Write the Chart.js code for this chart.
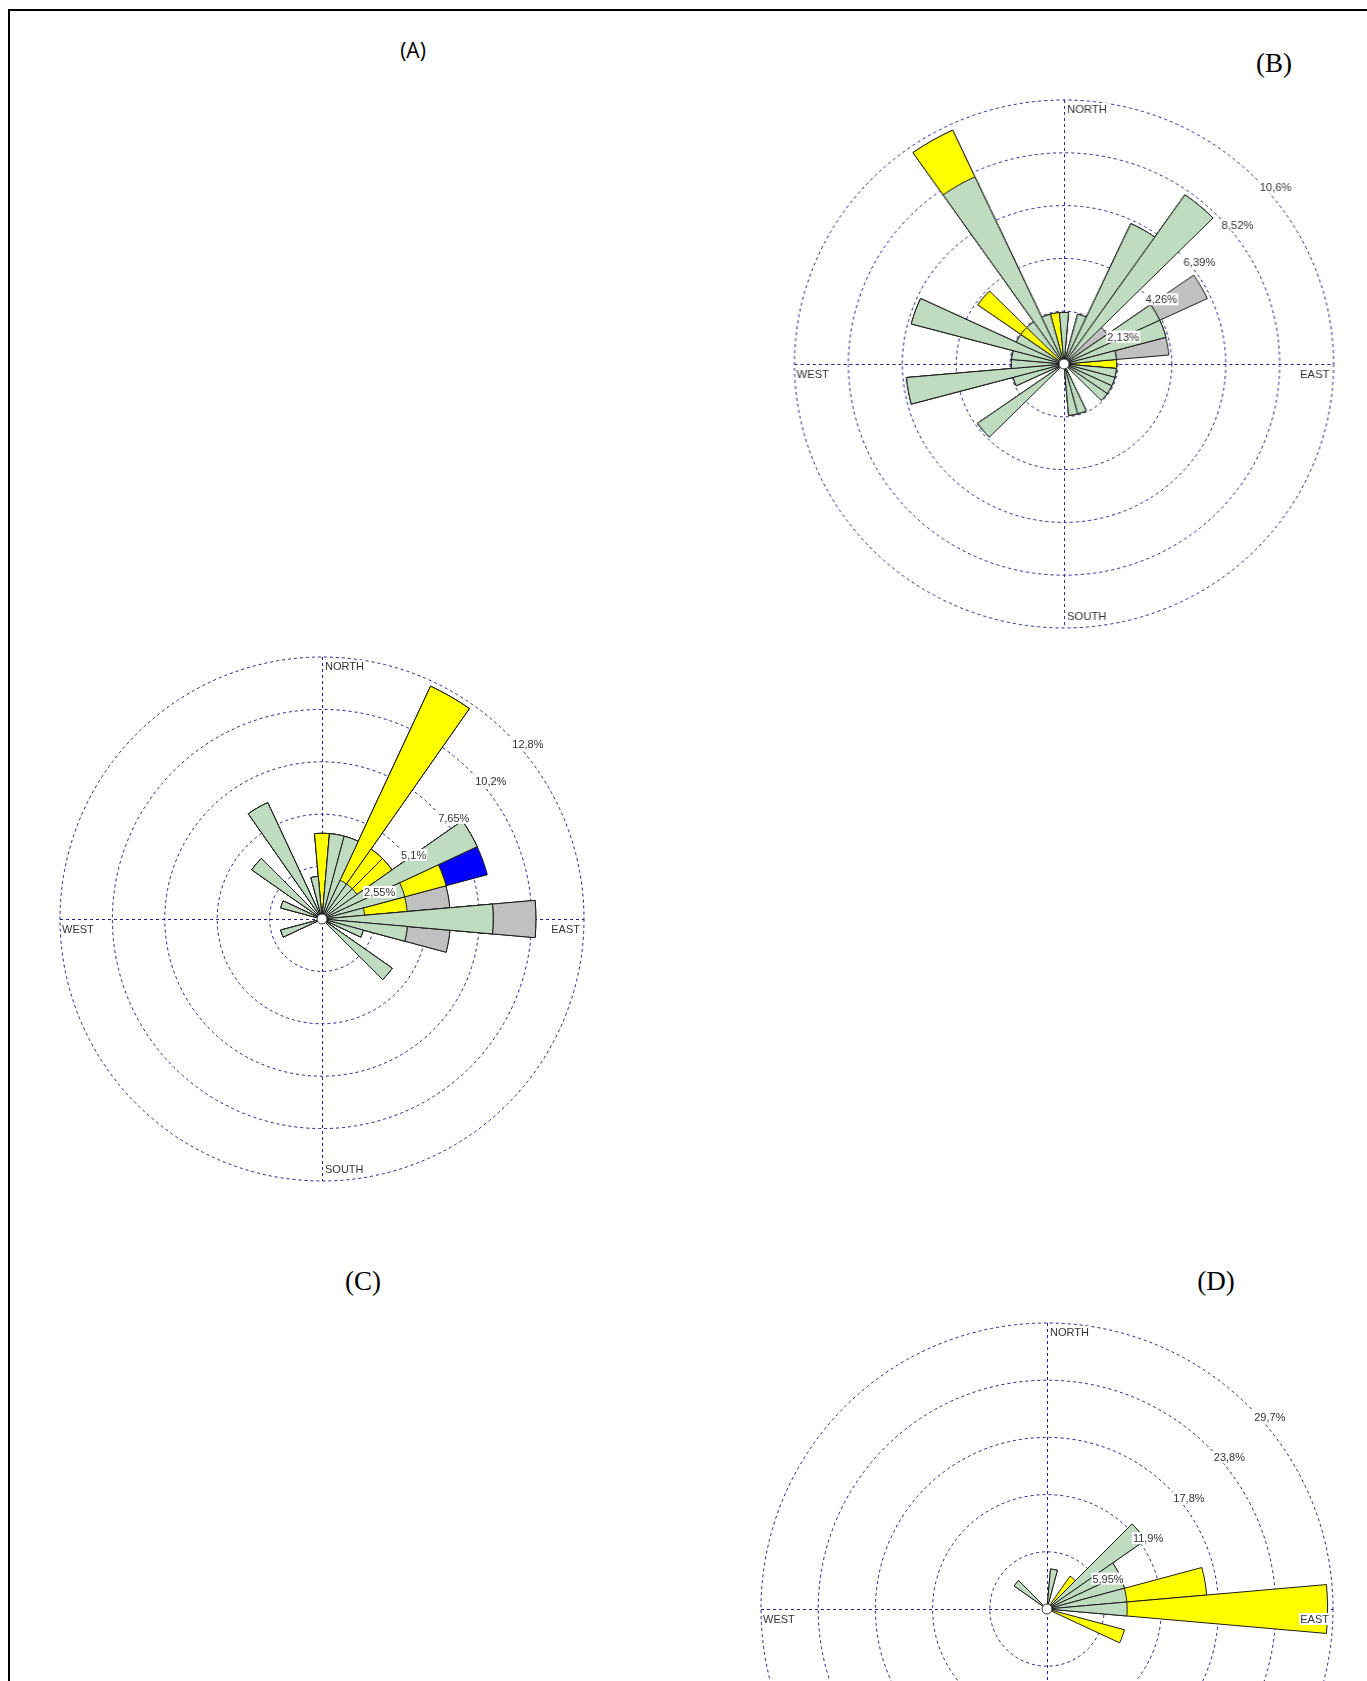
<!DOCTYPE html>
<html>
<head>
<meta charset="utf-8">
<title>Wind roses</title>
<script src="https://cdn.jsdelivr.net/npm/chart.js@4.4.1/dist/chart.umd.min.js"></script>
<style>
  html, body { margin: 0; padding: 0; background: #fff; overflow: hidden; }
  #page { position: relative; width: 1367px; height: 1681px; overflow: hidden; background: #fff; }
  #frame { position: absolute; left: 8px; top: 9px; width: 1420px; height: 1720px;
           border-top: 2px solid #000; border-left: 2px solid #000; }
  .tag { position: absolute; transform: translate(-50%, -50%); white-space: nowrap; color: #000; line-height: 1; }
  .serif { font-family: "Liberation Serif", "Times New Roman", serif; font-size: 27px; }
  .sans { font-family: "Open Sans", "Noto Sans", sans-serif; font-size: 21px; }
  canvas { position: absolute; }
</style>
</head>
<body>
<div id="page">
  <div id="frame"></div>
  <div class="tag sans" style="left:413px; top:50px;">(A)</div>
  <div class="tag serif" style="left:1274px; top:63px;">(B)</div>
  <div class="tag serif" style="left:363px; top:1281px;">(C)</div>
  <div class="tag serif" style="left:1216px; top:1281px;">(D)</div>

  <canvas id="roseB" width="540" height="540"
          style="left:794px; top:94px; width:540px; height:540px; transform:scaleX(1.021);"></canvas>
  <canvas id="roseL" width="536" height="536"
          style="left:54px; top:651px; width:536px; height:536px;"></canvas>
  <canvas id="roseD" width="584" height="584"
          style="left:755px; top:1317px; width:584px; height:584px;"></canvas>
</div>

<script>
// 36 direction sectors, 10 degrees each, centred on 0°, 10°, ... 350°
const sectorAngles = Array.from({ length: 36 }, (_, i) => i * 10 + '°');

// Speed-class colours (inner class first)
const colYellowLow = '#ffff00';
const colGreen = '#c0dcc0';
const colYellow = '#ffff00';
const colGrey = '#c0c0c0';
const colBlue = '#0000ff';

// ---- Rose (B): frequency (%) per sector and class ----
const bYellowLow = [0,0,0,0,0,0,0,0,0,0, 0,0,0,0,0,0,0,0,0,0, 0,0,0,0,0,0,0,0,0,0, 0,2.08,0,0,0,0];
const bGreen     = [2.08,0,2.08,6.25,8.33,0,4.17,4.17,2.08,0, 2.08,2.08,2.08,2.08,0,0,2.08,2.08,0,0,
                    0,0,0,4.17,0,2.08,6.25,2.08,2.08,6.25, 2.08,0,2.08,8.33,2.08,0];
const bYellow    = [0,0,0,0,0,0,0,0,0,2.08, 0,0,0,0,0,0,0,0,0,0, 0,0,0,0,0,0,0,0,0,0, 0,2.08,0,2.08,0,2.08];
const bGrey      = [0,0,0,0,0,2.08,2.08,0,2.08,0, 0,0,0,0,0,0,0,0,0,0, 0,0,0,0,0,0,0,0,0,0, 0,0,0,0,0,0];
const bRings      = [0, 2.13, 4.26, 6.39, 8.52, 10.65];
const bRingLabels = ['2,13%', '4,26%', '6,39%', '8,52%', '10,6%'];

// ---- Rose on the left ----
const lGreen  = [0,4.17,4.17,2.08,2.08,2.08,8.33,4.17,2.08,8.33, 4.17,2.08,0,4.17,0,0,0,0,0,0,
                 0,0,0,0,0,2.08,0,0,0,2.08, 0,4.17,0,6.25,0,2.08];
const lYellow = [4.17,0,0,10.42,2.08,2.08,0,2.08,2.08,0, 0,0,0,0,0,0,0,0,0,0, 0,0,0,0,0,0,0,0,0,0, 0,0,0,0,0,0];
const lGrey   = [0,0,0,0,0,0,0,0,2.08,2.08, 2.08,0,0,0,0,0,0,0,0,0, 0,0,0,0,0,0,0,0,0,0, 0,0,0,0,0,0];
const lBlue   = [0,0,0,0,0,0,0,2.08,0,0, 0,0,0,0,0,0,0,0,0,0, 0,0,0,0,0,0,0,0,0,0, 0,0,0,0,0,0];
const lRings      = [0, 2.55, 5.1, 7.65, 10.2, 12.75];
const lRingLabels = ['2,55%', '5,1%', '7,65%', '10,2%', '12,8%'];

// ---- Rose (D) ----
const dGreen  = [0,4.17,0,0,0,12.5,8.33,8.33,8.33,8.33, 0,0,0,0,0,0,0,0,0,0, 0,0,0,0,0,0,0,0,0,0, 0,4.17,0,0,0,0];
const dYellow = [0,0,0,0,4.17,0,0,0,8.33,20.83, 0,8.33,0,0,0,0,0,0,0,0, 0,0,0,0,0,0,0,0,0,0, 0,0,0,0,0,0];
const dRings      = [0, 5.945, 11.89, 17.835, 23.78, 29.725];
const dRingLabels = ['5,95%', '11,9%', '17,8%', '23,8%', '29,7%'];

const ringColor = 'rgb(32,32,140)';
const outlineColor = '#1c1c1c';
const labelFont = "11px 'Liberation Sans', Arial, sans-serif";
const labelColor = '#333';

// Turn per-class frequencies into cumulative rings; the innermost class is
// dataset 0, which Chart.js paints last, so each class shows as a band.
function stackDatasets(classes, colors) {
  let running = new Array(36).fill(0);
  return classes.map((values, k) => {
    running = running.map((v, i) => v + values[i]);
    return {
      data: running.slice(),
      backgroundColor: colors[k],
      borderColor: outlineColor,
      borderWidth: 1
    };
  });
}

function whiteBoxText(ctx, text, x, y, align) {
  ctx.font = labelFont;
  const w = ctx.measureText(text).width;
  const left = align === 'right' ? x - w : x;
  ctx.fillStyle = '#fff';
  ctx.fillRect(left - 1, y - 10, w + 2, 12);
  ctx.fillStyle = labelColor;
  ctx.textAlign = 'left';
  ctx.textBaseline = 'alphabetic';
  ctx.fillText(text, left, y);
}

// Compass cross under the bars; calm circle, ring values and compass names on top
const roseDecor = {
  id: 'roseDecor',
  beforeDatasetsDraw(chart) {
    const s = chart.scales.r, ctx = chart.ctx;
    const cx = s.xCenter, cy = s.yCenter, R = s.drawingArea;
    ctx.save();
    ctx.strokeStyle = ringColor;
    ctx.lineWidth = 1;
    ctx.setLineDash([3, 3]);
    ctx.beginPath();
    ctx.moveTo(cx + 0.5, cy - R); ctx.lineTo(cx + 0.5, cy + R);
    ctx.moveTo(cx - R, cy + 0.5); ctx.lineTo(cx + R, cy + 0.5);
    ctx.stroke();
    ctx.restore();
  },
  afterDatasetsDraw(chart, args, opts) {
    const s = chart.scales.r, ctx = chart.ctx;
    const cx = s.xCenter, cy = s.yCenter, R = s.drawingArea;
    ctx.save();
    // calm circle
    ctx.beginPath();
    ctx.arc(cx, cy, 5, 0, Math.PI * 2);
    ctx.fillStyle = '#fff';
    ctx.fill();
    ctx.strokeStyle = '#333';
    ctx.lineWidth = 1;
    ctx.stroke();
    // ring values along the north-east diagonal
    const vals = opts.ringValues, labs = opts.ringLabels;
    for (let i = 1; i < vals.length; i++) {
      const r = s.getDistanceFromCenterForValue(vals[i]);
      const px = cx + r * Math.SQRT1_2, py = cy - r * Math.SQRT1_2;
      whiteBoxText(ctx, labs[i - 1], px + 5, py + 14, 'left');
    }
    // compass names
    whiteBoxText(ctx, 'NORTH', cx + 3, cy - R + 13, 'left');
    whiteBoxText(ctx, 'SOUTH', cx + 3, cy + R - 8, 'left');
    whiteBoxText(ctx, 'WEST', cx - R + 2, cy + 14, 'left');
    whiteBoxText(ctx, 'EAST', cx + R - 4, cy + 14, 'right');
    ctx.restore();
  }
};

function makeRose(canvasId, classes, colors, rings, ringLabels) {
  return new Chart(document.getElementById(canvasId), {
    type: 'polarArea',
    data: { labels: sectorAngles, datasets: stackDatasets(classes, colors) },
    options: {
      responsive: false,
      devicePixelRatio: 1,
      animation: false,
      events: [],
      layout: { padding: 6 },
      plugins: {
        legend: { display: false },
        tooltip: { enabled: false },
        roseDecor: { ringValues: rings, ringLabels: ringLabels }
      },
      scales: {
        r: {
          min: 0,
          max: rings[rings.length - 1],
          startAngle: -5,
          afterBuildTicks: (scale) => { scale.ticks = rings.map(v => ({ value: v })); },
          ticks: { display: false },
          grid: { circular: true, color: ringColor, lineWidth: 1 },
          border: { dash: [3, 3] },
          angleLines: { display: false },
          pointLabels: { display: false }
        }
      }
    },
    plugins: [roseDecor]
  });
}

makeRose('roseB', [bYellowLow, bGreen, bYellow, bGrey],
         [colYellowLow, colGreen, colYellow, colGrey], bRings, bRingLabels);
makeRose('roseL', [lGreen, lYellow, lGrey, lBlue],
         [colGreen, colYellow, colGrey, colBlue], lRings, lRingLabels);
makeRose('roseD', [dGreen, dYellow],
         [colGreen, colYellow], dRings, dRingLabels);
</script>
</body>
</html>
